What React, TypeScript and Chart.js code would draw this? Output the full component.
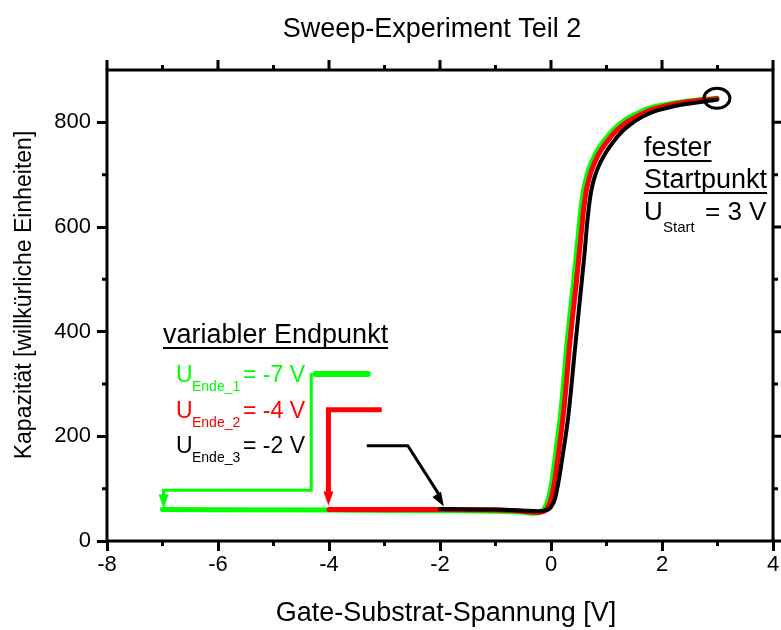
import React, { useEffect, useRef } from "react";
import { Chart, registerables } from "chart.js";

Chart.register(...registerables);

const FONT = '"Liberation Sans", Arial, Helvetica, sans-serif';
const GREEN = "#00ff00";
const RED = "#ff0000";
const BLACK = "#000000";

const chartTitle = "Sweep-Experiment Teil 2";
const xAxisTitle = "Gate-Substrat-Spannung [V]";
const yAxisTitle = "Kapazität [willkürliche Einheiten]";

const xMin = -8;
const xMax = 4;
const yMin = 0;
const yMax = 900;
const xTicks = [-8, -6, -4, -2, 0, 2, 4];
const xTickLabels = ["-8", "-6", "-4", "-2", "0", "2", "4"];
const xMinorTicks = [-7, -5, -3, -1, 1, 3];
const yTicks = [0, 200, 400, 600, 800];
const yTickLabels = ["0", "200", "400", "600", "800"];
const yMinorTicks = [100, 300, 500, 700];

// C-V sweeps (start at 3 V, end at -7 / -4 / -2 V)
const greenX = [-7, -4, -2, -1, -0.5, -0.3, -0.2, -0.12, -0.05, 0.01, 0.1, 0.19, 0.29, 0.41, 0.5, 0.54, 0.59, 0.66, 0.74, 0.84, 0.95, 1.11, 1.3, 1.55, 1.8, 2.4, 2.99];
const greenY = [60, 59, 58, 57, 55, 53, 55, 62, 80, 110, 180, 260, 380, 498, 594, 636, 672, 703, 726, 747, 764, 784, 802, 817, 828, 840, 846];

const redX = [-4, -2, -1, -0.5, -0.3, -0.15, -0.07, 0.0, 0.06, 0.15, 0.24, 0.34, 0.46, 0.55, 0.59, 0.64, 0.71, 0.79, 0.89, 1.0, 1.16, 1.36, 1.6, 1.84, 2.44, 2.99];
const redY = [60, 60, 59, 57, 55, 56, 62, 80, 110, 180, 260, 380, 498, 594, 636, 672, 702, 724, 745, 762, 782, 800, 814, 825, 839, 845];

const blackX = [-2, -1, -0.5, -0.25, -0.08, 0.0, 0.07, 0.13, 0.22, 0.31, 0.43, 0.55, 0.61, 0.64, 0.68, 0.73, 0.8, 0.88, 0.98, 1.09, 1.25, 1.42, 1.62, 1.84, 2.32, 2.99];
const blackY = [61, 60, 58, 57, 59, 65, 80, 110, 170, 237, 365, 492, 556, 594, 636, 672, 700, 721, 741, 758, 779, 795, 809, 820, 833, 843];

// legend marker paths
const greenMarkX = [-4.24, -3.3];
const greenMarkY = [319, 319];
const greenPathX = [-4.32, -4.32, -6.98, -6.98];
const greenPathY = [321, 97, 97, 74];
const redPathX = [-3.05, -4.01, -4.01];
const redPathY = [251, 251, 84];
const blackPathX = [-3.32, -2.58, -2.02];
const blackPathY = [182, 182, 89];

// arrow heads: tip and direction origin
const arrowTipX = [-6.98, -4.01, -1.93];
const arrowTipY = [62, 68, 66];
const arrowFromX = [-6.98, -4.01, -2.58];
const arrowFromY = [97, 251, 182];
const arrowColors = [GREEN, RED, BLACK];

// fixed start point marker
const startX = 2.99;
const startY = 846;

const pts = (xs: number[], ys: number[]) => xs.map((x, i) => ({ x, y: ys[i] }));

const drawUnderlined = (ctx: CanvasRenderingContext2D, text: string, x: number, y: number) => {
  ctx.fillText(text, x, y);
  const w = ctx.measureText(text).width;
  ctx.fillRect(x, y + 4, w, 2);
};

const annotationPlugin = {
  id: "annotations",
  afterDatasetsDraw(chart: any) {
    const { ctx, scales } = chart;
    const sx = scales.x;
    const sy = scales.y;
    ctx.save();
    for (let i = 0; i < arrowTipX.length; i++) {
      const tx = sx.getPixelForValue(arrowTipX[i]);
      const ty = sy.getPixelForValue(arrowTipY[i]);
      const fx = sx.getPixelForValue(arrowFromX[i]);
      const fy = sy.getPixelForValue(arrowFromY[i]);
      const ang = Math.atan2(ty - fy, tx - fx);
      const len = 14;
      const half = 5;
      const bx = tx - len * Math.cos(ang);
      const by = ty - len * Math.sin(ang);
      ctx.beginPath();
      ctx.moveTo(tx, ty);
      ctx.lineTo(bx + half * Math.sin(ang), by - half * Math.cos(ang));
      ctx.lineTo(bx - half * Math.sin(ang), by + half * Math.cos(ang));
      ctx.closePath();
      ctx.fillStyle = arrowColors[i];
      ctx.fill();
    }
    const cx = sx.getPixelForValue(startX);
    const cy = sy.getPixelForValue(startY);
    ctx.beginPath();
    ctx.ellipse(cx, cy, 13, 10, 0, 0, Math.PI * 2);
    ctx.strokeStyle = BLACK;
    ctx.lineWidth = 3;
    ctx.stroke();
    ctx.restore();
  },
  afterDraw(chart: any) {
    const { ctx, chartArea: ca, scales } = chart;
    const sx = scales.x;
    const sy = scales.y;
    ctx.save();
    ctx.strokeStyle = BLACK;
    ctx.lineWidth = 3;
    ctx.strokeRect(ca.left, ca.top, ca.right - ca.left, ca.bottom - ca.top);
    ctx.beginPath();
    for (const v of xMinorTicks) {
      const p = sx.getPixelForValue(v);
      ctx.moveTo(p, ca.bottom);
      ctx.lineTo(p, ca.bottom + 5);
      ctx.moveTo(p, ca.top);
      ctx.lineTo(p, ca.top - 5);
    }
    for (const v of xTicks) {
      const p = sx.getPixelForValue(v);
      ctx.moveTo(p, ca.top);
      ctx.lineTo(p, ca.top - 10);
    }
    for (const v of yMinorTicks) {
      const p = sy.getPixelForValue(v);
      ctx.moveTo(ca.left, p);
      ctx.lineTo(ca.left - 5, p);
      ctx.moveTo(ca.right, p);
      ctx.lineTo(ca.right + 5, p);
    }
    for (const v of yTicks) {
      const p = sy.getPixelForValue(v);
      ctx.moveTo(ca.right, p);
      ctx.lineTo(ca.right + 10, p);
    }
    ctx.stroke();

    ctx.fillStyle = BLACK;
    ctx.textBaseline = "alphabetic";
    ctx.textAlign = "center";
    ctx.font = `27px ${FONT}`;
    ctx.fillText(chartTitle, 432, 37);
    ctx.fillText(xAxisTitle, 446, 621);
    ctx.save();
    ctx.translate(31, 295);
    ctx.rotate(-Math.PI / 2);
    ctx.font = `23px ${FONT}`;
    ctx.fillText(yAxisTitle, 0, 0);
    ctx.restore();

    ctx.textAlign = "left";
    ctx.font = `27px ${FONT}`;
    ctx.fillStyle = BLACK;
    drawUnderlined(ctx, "variabler Endpunkt", 163, 343);
    const rows = [
      { color: GREEN, sub: "Ende_1", val: "= -7 V", base: 382 },
      { color: RED, sub: "Ende_2", val: "= -4 V", base: 418 },
      { color: BLACK, sub: "Ende_3", val: "= -2 V", base: 453 },
    ];
    for (const r of rows) {
      ctx.fillStyle = r.color;
      ctx.font = `23px ${FONT}`;
      ctx.fillText("U", 176, r.base);
      ctx.fillText(r.val, 243, r.base);
      ctx.font = `14px ${FONT}`;
      ctx.fillText(r.sub, 192, r.base + 9);
    }

    ctx.fillStyle = BLACK;
    ctx.font = `27px ${FONT}`;
    drawUnderlined(ctx, "fester", 644, 156);
    drawUnderlined(ctx, "Startpunkt", 644, 188);
    ctx.font = `26px ${FONT}`;
    ctx.fillText("U", 644, 220);
    ctx.fillText("= 3 V", 705, 220);
    ctx.font = `15px ${FONT}`;
    ctx.fillText("Start", 663, 232);
    ctx.restore();
  },
};

export default function App() {
  const ref = useRef<HTMLCanvasElement | null>(null);

  useEffect(() => {
    if (!ref.current) return;
    const line = (data: any, color: string, width: number, order: number, smooth: boolean) => ({
      data,
      borderColor: color,
      backgroundColor: color,
      borderWidth: width,
      pointRadius: 0,
      showLine: true,
      fill: false,
      order,
      borderCapStyle: "round",
      borderJoinStyle: smooth ? "round" : "miter",
      cubicInterpolationMode: smooth ? "monotone" : "default",
      tension: 0,
    });
    const chart = new Chart(ref.current, {
      type: "scatter",
      data: {
        datasets: [
          line(pts(blackX, blackY), BLACK, 4, 1, true),
          { ...line(pts(blackPathX, blackPathY), BLACK, 3, 1, false), borderCapStyle: "butt" },
          line(pts(redX, redY), RED, 5, 2, true),
          { ...line(pts(redPathX, redPathY), RED, 5, 2, false), borderCapStyle: "butt" },
          line(pts(greenX, greenY), GREEN, 5, 3, true),
          line(pts(greenMarkX, greenMarkY), GREEN, 6, 3, false),
          { ...line(pts(greenPathX, greenPathY), GREEN, 3, 3, false), borderCapStyle: "butt" },
        ] as any,
      },
      options: {
        animation: false,
        responsive: false,
        maintainAspectRatio: false,
        layout: { padding: { top: 70, right: 8, left: 0, bottom: 0 } },
        plugins: { legend: { display: false }, tooltip: { enabled: false }, title: { display: false } },
        scales: {
          x: {
            type: "linear",
            min: xMin,
            max: xMax,
            afterBuildTicks: (s: any) => {
              s.ticks = xTicks.map((v) => ({ value: v }));
            },
            afterFit: (s: any) => {
              s.height = 89;
            },
            ticks: {
              color: BLACK,
              font: { family: FONT, size: 22 },
              padding: 1,
              maxRotation: 0,
              autoSkip: false,
              callback: (v: any) => xTickLabels[xTicks.indexOf(Number(v))] ?? "",
            },
            grid: { drawOnChartArea: false, drawTicks: true, tickLength: 10, lineWidth: 3, color: BLACK },
            border: { display: false },
          },
          y: {
            type: "linear",
            min: yMin,
            max: yMax,
            afterBuildTicks: (s: any) => {
              s.ticks = yTicks.map((v) => ({ value: v }));
            },
            afterFit: (s: any) => {
              s.width = 107;
            },
            ticks: {
              color: BLACK,
              font: { family: FONT, size: 22 },
              padding: 6,
              autoSkip: false,
              callback: (v: any) => yTickLabels[yTicks.indexOf(Number(v))] ?? "",
            },
            grid: { drawOnChartArea: false, drawTicks: true, tickLength: 10, lineWidth: 3, color: BLACK },
            border: { display: false },
          },
        },
      } as any,
      plugins: [annotationPlugin],
    });
    return () => chart.destroy();
  }, []);

  return (
    <div style={{ position: "absolute", left: 0, top: 0, width: 781, height: 630, background: "#fff" }}>
      <canvas ref={ref} width={781} height={630} style={{ display: "block" }} />
    </div>
  );
}
